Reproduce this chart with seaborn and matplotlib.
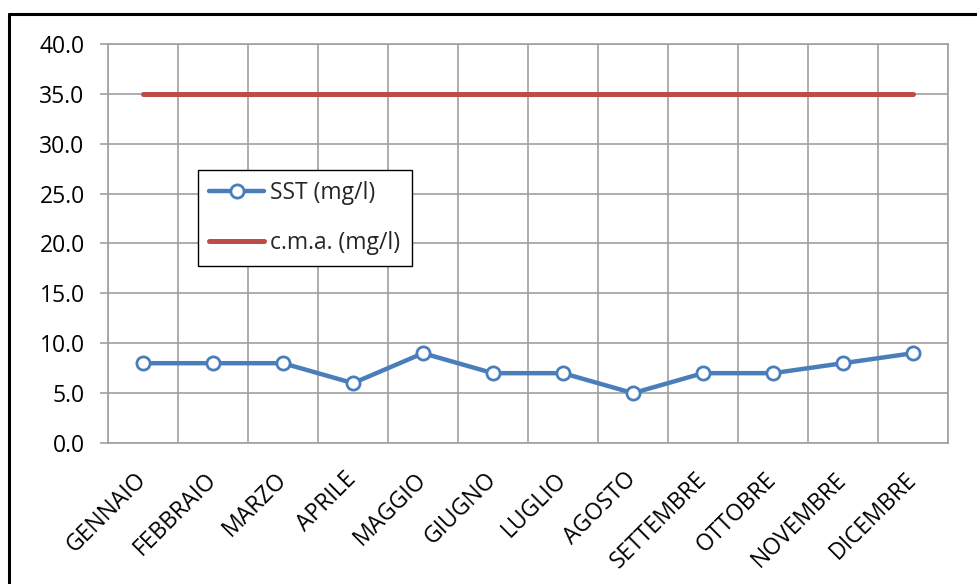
import matplotlib
matplotlib.use("Agg")
import matplotlib.pyplot as plt
import seaborn as sns
import pandas as pd
from matplotlib.lines import Line2D
from matplotlib.ticker import FormatStrFormatter, MultipleLocator, FixedLocator

months = ["GENNAIO", "FEBBRAIO", "MARZO", "APRILE", "MAGGIO", "GIUGNO",
          "LUGLIO", "AGOSTO", "SETTEMBRE", "OTTOBRE", "NOVEMBRE", "DICEMBRE"]
sst = [8, 8, 8, 6, 9, 7, 7, 5, 7, 7, 8, 9]
cma = [35] * 12

sns.set_theme(style="white")
plt.rcParams["font.family"] = ["Open Sans", "DejaVu Sans"]

fig = plt.figure(figsize=(9.78, 5.84), dpi=100)
ax = fig.add_axes([108 / 978, 1 - 443 / 584, 840 / 978, 399 / 584])

df = pd.DataFrame({"x": list(range(12)), "SST (mg/l)": sst, "c.m.a. (mg/l)": cma})

blue = "#4A7EBB"
red = "#BE4B48"
grid_c = "#A0A0A0"
fs = 16.5

sns.lineplot(data=df, x="x", y="c.m.a. (mg/l)", ax=ax, color=red, linewidth=3.6,
             label="c.m.a. (mg/l)", solid_capstyle="round", zorder=3)
sns.lineplot(data=df, x="x", y="SST (mg/l)", ax=ax, color=blue, linewidth=3.2,
             marker="o", markersize=9.5, markerfacecolor="white",
             markeredgecolor=blue, markeredgewidth=2.0, label="SST (mg/l)", zorder=4)

ax.set_xlim(-0.5, 11.5)
ax.set_ylim(0, 40)
ax.set_xlabel("")
ax.set_ylabel("")

ax.xaxis.set_major_locator(FixedLocator(range(12)))
ax.set_xticklabels(months, rotation=45, ha="right", va="center",
                   rotation_mode="anchor", fontsize=fs, color="black")
ax.xaxis.set_minor_locator(FixedLocator([i - 0.5 for i in range(13)]))
ax.tick_params(axis="x", which="major", length=0, pad=24)
ax.tick_params(axis="x", which="minor", length=5.8, width=1.2, color=grid_c, direction="out")
ax.yaxis.set_major_locator(MultipleLocator(5))
ax.yaxis.set_major_formatter(FormatStrFormatter("%.1f"))
ax.tick_params(axis="y", which="major", length=5.8, width=1.2, color=grid_c,
               labelsize=fs, labelcolor="black", pad=11, left=True)

ax.grid(True, axis="y", which="major", color=grid_c, linewidth=1.2)
ax.grid(True, axis="x", which="minor", color=grid_c, linewidth=1.2)
ax.grid(False, axis="x", which="major")
ax.set_axisbelow(True)
for s in ax.spines.values():
    s.set_color(grid_c)
    s.set_linewidth(1.2)

h, l = ax.get_legend_handles_labels()
order = [l.index("SST (mg/l)"), l.index("c.m.a. (mg/l)")]
leg = ax.legend([h[i] for i in order], [l[i] for i in order],
                loc="upper left", bbox_to_anchor=(198 / 978, 1 - 170 / 584),
                bbox_transform=fig.transFigure, fontsize=fs, frameon=True,
                fancybox=False, edgecolor="black", framealpha=1,
                handlelength=2.4, handletextpad=0.25, borderpad=0.5,
                labelspacing=1.1, borderaxespad=0)
leg.get_frame().set_linewidth(1.0)

fig.add_artist(Line2D([9 / 978, 977 / 978], [1 - 14 / 584, 1 - 14 / 584],
                      transform=fig.transFigure, color="black", linewidth=2.2))
fig.add_artist(Line2D([9 / 978, 9 / 978], [1 - 14 / 584, 0],
                      transform=fig.transFigure, color="black", linewidth=2.2))

fig.savefig("out.png", dpi=100, facecolor="white")
